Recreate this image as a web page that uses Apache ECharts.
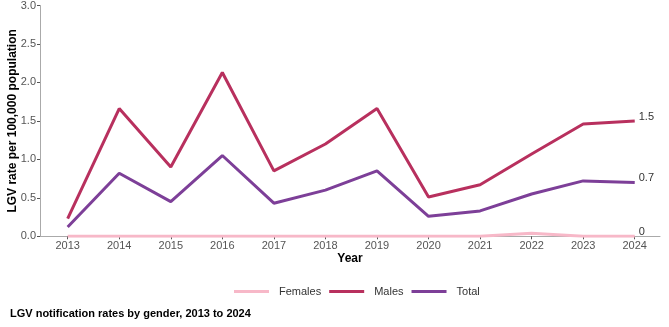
<!DOCTYPE html>
<html>
<head>
<meta charset="utf-8">
<script src="https://cdn.jsdelivr.net/npm/echarts@6/dist/echarts.min.js"></script>
<style>
  html, body { margin: 0; padding: 0; background: #fff; }
  #chart { width: 669px; height: 327px; }
</style>
</head>
<body>
<div id="chart"></div>
<script>
// LGV notification rates per 100,000 population, by gender
const years = [2013, 2014, 2015, 2016, 2017, 2018, 2019, 2020, 2021, 2022, 2023, 2024];
const females = [0, 0, 0, 0, 0, 0, 0, 0, 0, 0.04, 0, 0];
const males = [0.23, 1.66, 0.90, 2.13, 0.85, 1.20, 1.66, 0.51, 0.67, 1.07, 1.46, 1.5];
const total = [0.12, 0.82, 0.45, 1.05, 0.43, 0.60, 0.85, 0.26, 0.33, 0.55, 0.72, 0.7];

const FONT = 'Liberation Sans, Arial, sans-serif';

function lineSeries(name, values, color, z) {
  return {
    name: name,
    type: 'line',
    data: values.map((v, i) => [years[i], v]),
    showSymbol: false,
    symbol: 'none',
    z: z,
    lineStyle: { color: color, width: 3 },
    itemStyle: { color: color },
    emphasis: { disabled: true },
    // value of the latest year written just past the line end
    endLabel: {
      show: true,
      distance: 4,
      offset: [0, -4],
      formatter: p => String(p.value[1]),
      color: '#333',
      fontFamily: FONT,
      fontSize: 11
    }
  };
}

const chart = echarts.init(document.getElementById('chart'), null, { renderer: 'canvas' });
chart.setOption({
  animation: false,
  backgroundColor: '#fff',
  textStyle: { fontFamily: FONT },
  grid: { left: 40, right: 9, top: 5.5, bottom: 90.7, containLabel: false, outerBoundsMode: 'none' },
  title: {
    text: 'LGV notification rates by gender, 2013 to 2024',
    left: 10,
    top: 308,
    padding: 0,
    textStyle: { fontFamily: FONT, fontSize: 11, fontWeight: 'bold', color: '#000' }
  },
  legend: {
    left: 234,
    top: 286,
    padding: 0,
    itemWidth: 35,
    itemHeight: 3,
    itemGap: 8,
    icon: 'rect',
    textStyle: { fontFamily: FONT, fontSize: 11, color: '#333', padding: [0, 0, 0, 5] },
    data: ['Females', 'Males', 'Total']
  },
  xAxis: {
    type: 'value',
    min: 2012.463,
    max: 2024.49,
    name: 'Year',
    nameLocation: 'middle',
    nameGap: 16,
    nameMoveOverlap: false,
    nameTextStyle: { fontFamily: FONT, fontSize: 12, fontWeight: 'bold', color: '#000' },
    splitLine: { show: false },
    axisLine: { show: true, lineStyle: { color: '#aaa', width: 1 } },
    axisTick: { show: true, customValues: years, length: 3, lineStyle: { color: '#555' } },
    axisLabel: {
      customValues: years,
      formatter: v => String(v),
      color: '#555',
      fontFamily: FONT,
      fontSize: 11,
      margin: 4
    }
  },
  yAxis: {
    type: 'value',
    min: 0,
    max: 3,
    interval: 0.5,
    name: 'LGV rate per 100,000 population',
    nameLocation: 'middle',
    nameGap: 21,
    nameMoveOverlap: false,
    nameTextStyle: { fontFamily: FONT, fontSize: 12, fontWeight: 'bold', color: '#000' },
    splitLine: { show: false },
    axisLine: { show: true, lineStyle: { color: '#aaa', width: 1 } },
    axisTick: { show: true, length: 3, lineStyle: { color: '#555' } },
    axisLabel: {
      formatter: v => v.toFixed(1),
      color: '#555',
      fontFamily: FONT,
      fontSize: 11,
      margin: 4
    }
  },
  series: [
    lineSeries('Females', females, '#f7b8c8', 1),
    lineSeries('Males', males, '#b8305e', 3),
    lineSeries('Total', total, '#7d3f98', 2)
  ]
});
</script>
</body>
</html>
